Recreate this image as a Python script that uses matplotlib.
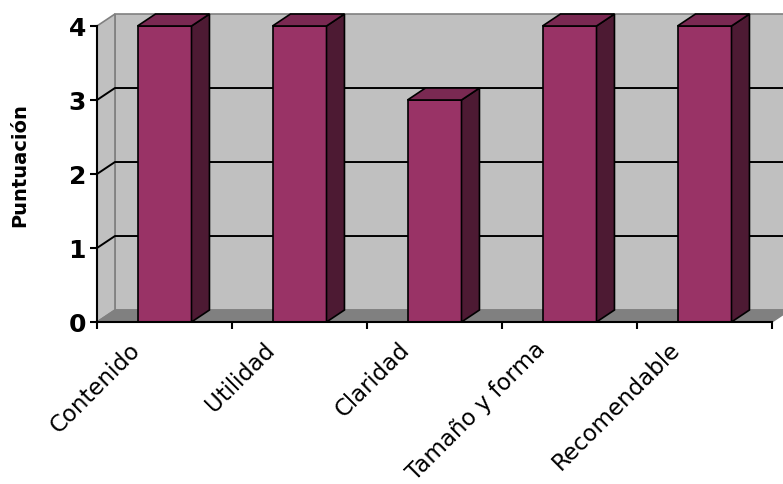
import matplotlib.pyplot as plt
from matplotlib.transforms import ScaledTranslation

plt.rcParams["font.family"] = "DejaVu Sans"

categorias = ["Contenido", "Utilidad", "Claridad", "Tamaño y forma", "Recomendable"]
puntuacion = [4, 4, 3, 4, 4]
y_ticks = [0, 1, 2, 3, 4]

frente = "#993366"
lado = "#4d1a33"
techo = "#7a2952"
pared = "#c0c0c0"
suelo = "#808080"

fig = plt.figure(figsize=(7.83, 4.85), dpi=100)
ax = fig.add_axes([97 / 783, 162 / 485, 686 / 783, 318 / 485])

n = len(categorias)
x0, x1 = -0.5, n - 0.5
ymax = max(y_ticks)
dx, dy = 0.133, 0.162   # depth of the fake 3D
w = 0.4

ax.set_xlim(x0, x0 + 686 / 135)
ax.set_ylim(0, 318 / 74)

# back wall and left wall
ax.fill([x0 + dx, x1 + dx, x1 + dx, x0 + dx], [dy, dy, ymax + dy, ymax + dy],
        fc=pared, ec=suelo, lw=1.2, zorder=1)
ax.fill([x0, x0 + dx, x0 + dx, x0], [0, dy, ymax + dy, ymax],
        fc=pared, ec=suelo, lw=1.2, zorder=1)

# gridlines
for t in y_ticks[1:-1]:
    ax.plot([x0, x0 + dx, x1 + dx], [t, t + dy, t + dy], color="black", lw=1.4, zorder=2)

# floor
ax.fill([x0, x1, x1 + dx, x0 + dx], [0, 0, dy, dy], fc=suelo, ec=suelo, lw=1, zorder=2)

# bars
xs = list(range(n))
ax.bar(xs, puntuacion, width=w, color=frente, edgecolor="black", lw=1.2, zorder=3)
for i, v in enumerate(puntuacion):
    l, r = i - w / 2, i + w / 2
    ax.fill([r, r + dx, r + dx, r], [0, dy, v + dy, v], fc=lado, ec="black", lw=1.2, zorder=3)
    ax.fill([l, r, r + dx, l + dx], [v, v, v + dy, v + dy], fc=techo, ec="black", lw=1.2, zorder=3)

# axes
ax.spines["top"].set_visible(False)
ax.spines["right"].set_visible(False)
ax.spines["left"].set_bounds(0, ymax)
ax.spines["bottom"].set_bounds(x0, x1)
ax.spines["left"].set_linewidth(1.5)
ax.spines["bottom"].set_linewidth(1.5)
ax.spines["bottom"].set_zorder(4)

ax.set_yticks(y_ticks)
ax.set_yticklabels([str(t) for t in y_ticks], fontsize=18, fontweight="bold")
ax.tick_params(axis="y", length=5, width=1.5, pad=3)

ax.set_xticks([x0 + k for k in range(n + 1)])
ax.set_xticklabels([])
ax.set_xticks(xs, minor=True)
ax.set_xticklabels(categorias, minor=True, rotation=45, ha="right", va="top", fontsize=16.5)
ax.tick_params(axis="x", which="major", length=5, width=1.5)
ax.tick_params(axis="x", which="minor", length=0, pad=11)

offset = ScaledTranslation(-20 / 100, 0, fig.dpi_scale_trans)
for lab in ax.get_xticklabels(minor=True):
    lab.set_transform(lab.get_transform() + offset)

fig.text(20 / 783, 1 - 165 / 485, "Puntuación", rotation=90, ha="center", va="center",
         fontsize=14, fontweight="bold")

fig.savefig("out.png", dpi=100)
plt.close()
